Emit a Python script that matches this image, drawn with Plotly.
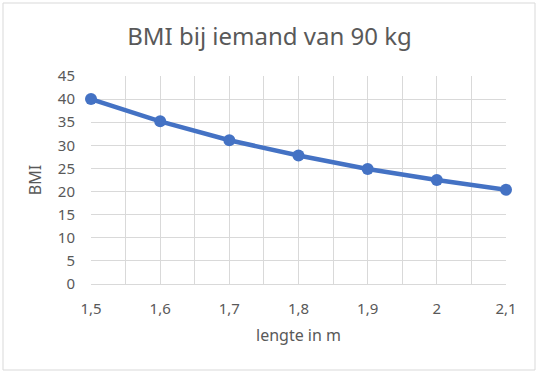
import plotly.graph_objects as go

lengte = [1.5, 1.6, 1.7, 1.8, 1.9, 2.0, 2.1]
bmi = [40.0, 35.2, 31.1, 27.8, 24.9, 22.5, 20.4]
x_ticks = [1.5, 1.6, 1.7, 1.8, 1.9, 2.0, 2.1]
x_labels = ["1,5", "1,6", "1,7", "1,8", "1,9", "2", "2,1"]
y_ticks = [0, 5, 10, 15, 20, 25, 30, 35, 40, 45]

W, H = 539, 376
L, R, T, B = 91, 33, 76, 92
pw, ph = W - L - R, H - T - B

fig = go.Figure()
fig.add_trace(go.Scatter(
    x=lengte, y=bmi, mode="lines+markers",
    line=dict(color="#4472C4", width=4.5),
    marker=dict(color="#4472C4", size=12),
    hoverinfo="x+y", showlegend=False,
))

font = "Noto Sans, Open Sans, sans-serif"
fig.update_layout(
    width=W, height=H,
    margin=dict(l=L, r=R, t=T, b=B),
    paper_bgcolor="white", plot_bgcolor="white",
    font=dict(family=font, color="#595959", size=15),
    title=dict(text="BMI bij iemand van 90 kg", x=0.5, xanchor="center",
               y=1 - 37 / H, yanchor="middle",
               font=dict(size=24, color="#595959", family=font)),
    xaxis=dict(range=[1.5, 2.1], tickvals=x_ticks, ticktext=x_labels,
               showgrid=True, gridcolor="#d9d9d9", gridwidth=1,
               minor=dict(dtick=0.05, tick0=1.5, showgrid=True, gridcolor="#d9d9d9"),
               showline=True, linecolor="#d9d9d9", zeroline=False,
               ticks="", ticklabelstandoff=11,
               title=dict(text="lengte in m", standoff=12, font=dict(size=16)),
               fixedrange=True),
    yaxis=dict(range=[0, 45], tickvals=y_ticks,
               showgrid=True, gridcolor="#d9d9d9", gridwidth=1,
               zeroline=False, showline=False, ticks="", ticklabelstandoff=15,
               title=dict(text="BMI", standoff=12, font=dict(size=16)),
               fixedrange=True),
    shapes=[dict(type="rect", xref="paper", yref="paper",
                 x0=(3 - L) / pw, x1=(535 - L) / pw,
                 y0=(H - B - 370) / ph, y1=(H - B - 3) / ph,
                 line=dict(color="#d9d9d9", width=1), fillcolor="rgba(0,0,0,0)",
                 layer="below")],
)
fig.update_traces(cliponaxis=False)
fig.write_html("out.html", config={"displayModeBar": False},
               post_script="document.body.style.margin='0';document.body.style.overflow='hidden';")
